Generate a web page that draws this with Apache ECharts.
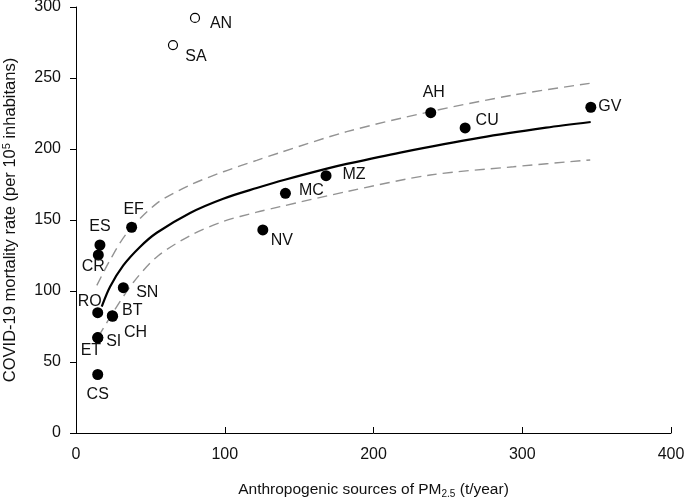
<!DOCTYPE html>
<html><head><meta charset="utf-8">
<script src="https://cdn.jsdelivr.net/npm/echarts@6/dist/echarts.min.js"></script>
<style>html,body{margin:0;padding:0;background:#fff}#c{width:684px;height:500px}</style>
</head><body><div id="c"></div>
<script>
// ---- data ----
const pointNames = ['AH','CU','GV','MZ','MC','NV','EF','ES','CR','RO','SN','BT','CH','SI','ET','CS'];
const pointX = [238.5, 261.6, 346.1, 168.1, 140.8, 125.6, 37.4, 16.1, 15.0, 14.6, 31.8, 24.4, 24.6, 14.6, 14.7, 14.6];
const pointY = [225.6, 214.8, 229.4, 181.2, 168.8, 143.0, 144.9, 132.4, 125.4, 84.7, 102.3, 82.6, 82.2, 67.2, 67.0, 41.2];

const outlierNames = ['AN','SA'];
const outlierX = [80.0, 65.2];
const outlierY = [292.3, 273.2];

const fitX = [17.3, 22.9, 31.8, 43.0, 54.3, 76.7, 99.0, 121.5, 141.0, 168.0, 182.0, 218.0, 272.0, 316.0, 346.0];
const fitY = [89, 103, 118, 131, 141, 155, 165, 172.5, 178.5, 186, 189.5, 197.5, 208, 215, 219];

const upperX = [14.0, 22.9, 34.1, 54.3, 76.7, 99.1, 121.5, 137.2, 182.0, 238.1, 294.1, 345.7];
const upperY = [104, 121.8, 140.6, 161.7, 174.6, 184.0, 192.0, 197.5, 212.2, 226.3, 238.0, 246.3];

const lowerX = [15.0, 26.2, 38.5, 54.3, 76.7, 99.0, 121.5, 137.2, 182.0, 238.1, 294.1, 345.7];
const lowerY = [67.8, 87.0, 106.0, 124.0, 139.0, 149.0, 155.5, 159.4, 170.0, 181.7, 187.5, 192.3];

const xTicks = [0, 100, 200, 300, 400];
const yTicks = [0, 50, 100, 150, 200, 250, 300];

// ---- label placement (style, not data) ----
const labelOffsets = {
  AN:[26,6], SA:[23,12], AH:[3,-20], CU:[22,-7], GV:[19,-1], MZ:[28,-1], MC:[26,-3],
  NV:[19,11], EF:[2,-18], ES:[0,-18], CR:[-5,12], RO:[-8,-11], SN:[24,5], BT:[20,-5],
  CH:[23,16], SI:[16,4], ET:[-7,13], CS:[0,20]
};

const FONT = '"Liberation Sans", Arial, Helvetica, sans-serif';
const TXT = '#111';

function pts(xs, ys) { return xs.map((x, i) => [x, ys[i]]); }
function labeled(names, xs, ys) {
  return names.map((n, i) => ({
    value: [xs[i], ys[i]],
    name: n,
    label: { offset: labelOffsets[n] }
  }));
}
const pointLabel = {
  show: true, position: ['50%', '50%'], formatter: '{b}', color: TXT,
  fontSize: 16, fontFamily: FONT, align: 'center', verticalAlign: 'middle',
  textBorderWidth: 0, opacity: 1
};

const chart = echarts.init(document.getElementById('c'), null, { renderer: 'canvas' });
chart.setOption({
  animation: false,
  backgroundColor: '#fff',
  grid: { left: 76, right: 13, top: 7, bottom: 67, containLabel: false, outerBoundsMode: 'none' },
  xAxis: {
    type: 'value', min: xTicks[0], max: xTicks[xTicks.length - 1], interval: 100,
    splitLine: { show: false },
    axisLine: { show: true, onZero: false, lineStyle: { color: '#000', width: 1 } },
    axisTick: { show: true, inside: true, length: 6, lineStyle: { color: '#000' } },
    axisLabel: { color: TXT, fontSize: 16, fontFamily: FONT, margin: 14 },
    name: 'Anthropogenic sources of PM{sub|2.5} (t/year)',
    nameLocation: 'middle', nameGap: 48,
    nameTextStyle: {
      color: TXT, fontSize: 15.5, fontFamily: FONT,
      rich: { sub: { fontSize: 10, fontFamily: FONT, color: TXT, verticalAlign: 'bottom', padding: [8, 0, 0, 0] } }
    }
  },
  yAxis: {
    type: 'value', min: yTicks[0], max: yTicks[yTicks.length - 1], interval: 50,
    splitLine: { show: false },
    axisLine: { show: true, onZero: false, lineStyle: { color: '#000', width: 1 } },
    axisTick: { show: true, inside: false, length: 6, lineStyle: { color: '#000' } },
    axisLabel: { color: TXT, fontSize: 16, fontFamily: FONT, margin: 15 },
    name: 'COVID-19 mortality rate (per 10{sup|5} inhabitans)',
    nameLocation: 'middle', nameGap: 56,
    nameTextStyle: {
      color: TXT, fontSize: 16.5, fontFamily: FONT,
      rich: { sup: { fontSize: 11, fontFamily: FONT, color: TXT, verticalAlign: 'top', padding: [0, 0, 8, 0] } }
    }
  },
  series: [
    {
      type: 'line', data: pts(upperX, upperY), smooth: 0.3, showSymbol: false, silent: true,
      lineStyle: { color: '#939393', width: 1.4, type: [10, 6] }, z: 1
    },
    {
      type: 'line', data: pts(lowerX, lowerY), smooth: 0.3, showSymbol: false, silent: true,
      lineStyle: { color: '#939393', width: 1.4, type: [10, 6] }, z: 1
    },
    {
      type: 'line', data: pts(fitX, fitY), smooth: 0.3, showSymbol: false, silent: true,
      lineStyle: { color: '#000', width: 2.2 }, z: 2
    },
    {
      type: 'scatter', data: labeled(pointNames, pointX, pointY), symbol: 'circle', symbolSize: 11,
      itemStyle: { color: '#000', opacity: 1 }, z: 3,
      label: pointLabel
    },
    {
      type: 'scatter', data: labeled(outlierNames, outlierX, outlierY), symbol: 'circle', symbolSize: 9,
      itemStyle: { color: '#fff', borderColor: '#000', borderWidth: 1.2, opacity: 1 }, z: 3,
      label: pointLabel
    }
  ]
});
</script></body></html>
